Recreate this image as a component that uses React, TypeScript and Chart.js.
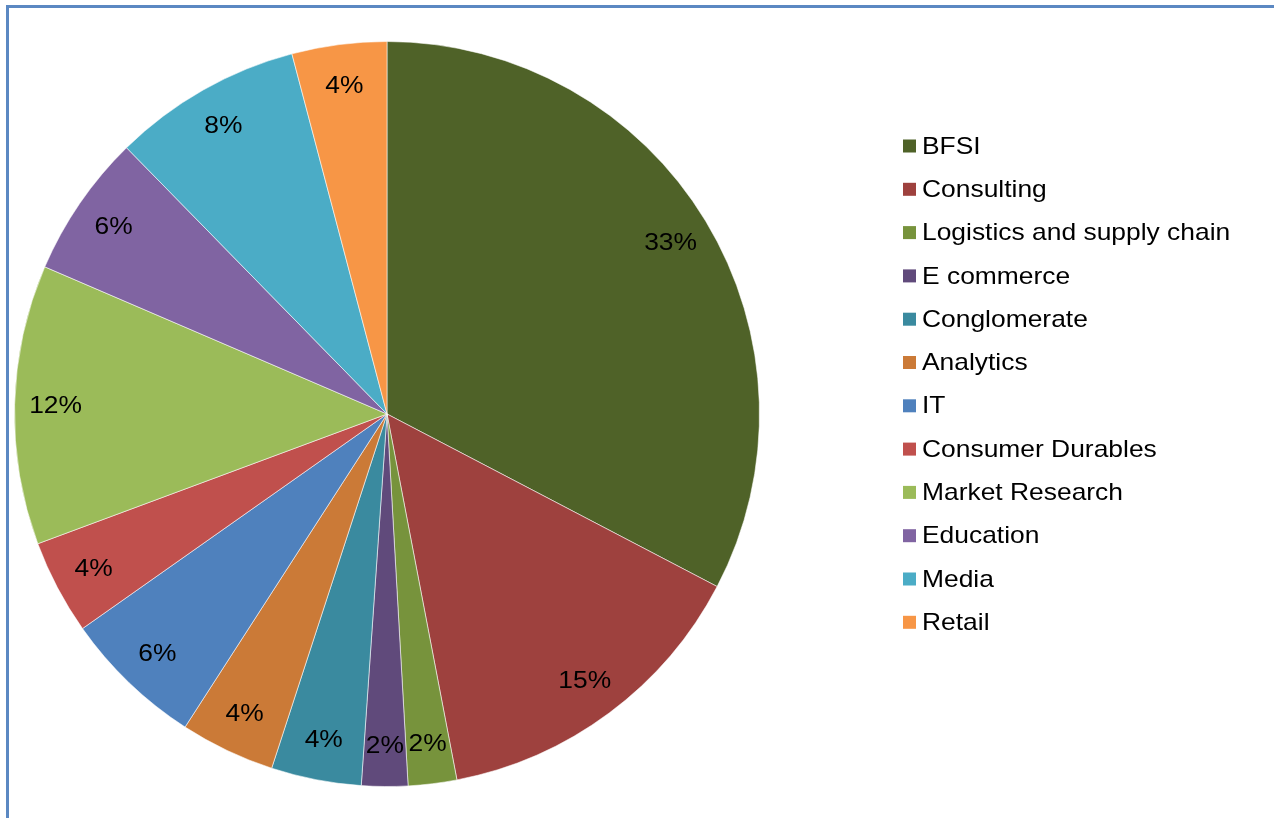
import React, { useEffect, useRef } from "react";
import { Chart, registerables } from "chart.js";

Chart.register(...registerables);

const categories = [
  "BFSI",
  "Consulting",
  "Logistics and supply chain",
  "E commerce",
  "Conglomerate",
  "Analytics",
  "IT",
  "Consumer Durables",
  "Market Research",
  "Education",
  "Media",
  "Retail",
];

// slice sizes (percent of the full circle)
const shares = [32.6, 14.3, 2.1, 2.0, 3.9, 4.1, 6.1, 4.1, 12.1, 6.2, 8.2, 4.1];

// data labels as printed on the chart
const percentLabels = ["33%", "15%", "2%", "2%", "4%", "4%", "6%", "4%", "12%", "6%", "8%", "4%"];

const colors = [
  "#4F6228",
  "#9E413E",
  "#77933C",
  "#604A7B",
  "#3A8A9F",
  "#CB7A37",
  "#4F81BD",
  "#C0504D",
  "#9BBB59",
  "#8064A2",
  "#4BACC6",
  "#F79646",
];

const FONT = "Liberation Sans, Arial, sans-serif";
const STRETCH = 1.1;

function wideText(ctx: CanvasRenderingContext2D, text: string, x: number, y: number) {
  ctx.save();
  ctx.translate(x, y);
  ctx.scale(STRETCH, 1);
  ctx.fillText(text, 0, 0);
  ctx.restore();
}

const decorPlugin = {
  id: "decor",
  afterDatasetsDraw(chart: any) {
    const ctx = chart.ctx;
    const meta = chart.getDatasetMeta(0);
    ctx.save();
    // data labels
    ctx.font = `24px ${FONT}`;
    ctx.fillStyle = "#000";
    ctx.textAlign = "center";
    ctx.textBaseline = "middle";
    meta.data.forEach((arc: any, i: number) => {
      const { x, y, startAngle, endAngle, outerRadius } = arc.getProps(
        ["x", "y", "startAngle", "endAngle", "outerRadius"],
        true
      );
      const mid = (startAngle + endAngle) / 2;
      const r = outerRadius * 0.89;
      wideText(ctx, percentLabels[i], x + Math.cos(mid) * r, y + Math.sin(mid) * r + 1);
    });
    // legend
    const lx = 903;
    const ly0 = 146;
    const step = 43.3;
    ctx.textAlign = "left";
    categories.forEach((c, i) => {
      const cy = ly0 + i * step;
      ctx.fillStyle = colors[i];
      ctx.fillRect(lx, cy - 6.5, 13, 13);
      ctx.fillStyle = "#000";
      wideText(ctx, c, lx + 19, cy + 1);
    });
    // outer border
    ctx.strokeStyle = "#5B88C2";
    ctx.lineWidth = 3;
    ctx.strokeRect(7.5, 6.5, 1290, 830);
    ctx.restore();
  },
};

export default function App() {
  const ref = useRef<HTMLCanvasElement>(null);
  useEffect(() => {
    if (!ref.current) return;
    const chart = new Chart(ref.current, {
      type: "pie",
      data: {
        labels: categories,
        datasets: [
          {
            data: shares,
            backgroundColor: colors,
            borderColor: "rgba(255,255,255,0.55)",
            borderWidth: 1,
          },
        ],
      },
      options: {
        animation: false,
        responsive: false,
        maintainAspectRatio: false,
        layout: { padding: { left: 14, top: 41, right: 514, bottom: 31 } },
        plugins: {
          legend: { display: false },
          tooltip: { enabled: false },
          title: { display: false },
        },
      },
      plugins: [decorPlugin],
    });
    return () => chart.destroy();
  }, []);
  return (
    <div style={{ position: "fixed", left: 0, top: 0, width: 1274, height: 818, background: "#fff" }}>
      <canvas ref={ref} width={1274} height={818} style={{ display: "block" }} />
    </div>
  );
}
